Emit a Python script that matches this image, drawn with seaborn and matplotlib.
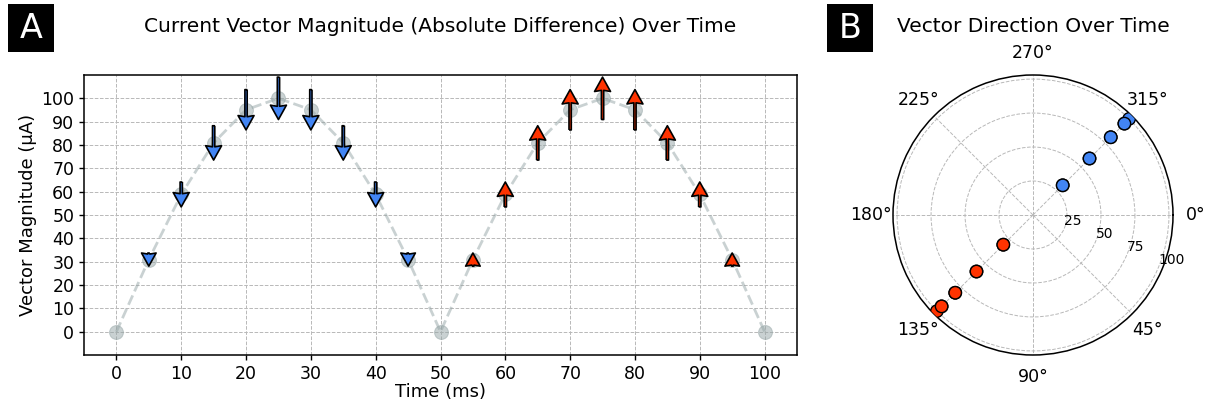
import numpy as np
import matplotlib
matplotlib.use("Agg")
import matplotlib.pyplot as plt
from matplotlib.patches import Rectangle
import seaborn as sns

# Sampled current vector: time (ms), magnitude (µA), polarity (-1 down / +1 up)
time_ms = [0, 5, 10, 15, 20, 25, 30, 35, 40, 45, 50,
           55, 60, 65, 70, 75, 80, 85, 90, 95, 100]
magnitude = [0.0, 30.9, 58.8, 80.9, 95.1, 100.0, 95.1, 80.9, 58.8, 30.9, 0.0,
             30.9, 58.8, 80.9, 95.1, 100.0, 95.1, 80.9, 58.8, 30.9, 0.0]
polarity = [0, -1, -1, -1, -1, -1, -1, -1, -1, -1, 0,
            1, 1, 1, 1, 1, 1, 1, 1, 1, 0]
# Vector direction (degrees, clockwise from east) for each polarity
direction_deg = {-1: 315, 1: 135}

x_ticks = [0, 10, 20, 30, 40, 50, 60, 70, 80, 90, 100]
y_ticks = [0, 10, 20, 30, 40, 50, 60, 70, 80, 90, 100]
r_ticks = [25, 50, 75, 100]
theta_ticks = [0, 45, 90, 135, 180, 225, 270, 315]

BLUE = "#4285F4"
RED = "#FF3300"
TRACE = "#95A5A6"
pol_color = {-1: BLUE, 1: RED}

sns.set_theme(style="ticks")
plt.rcParams["font.family"] = ["DejaVu Sans"]
for key in ("text.color", "axes.labelcolor", "xtick.color", "ytick.color"):
    plt.rcParams[key] = "black"

W, H = 1209, 405
fig = plt.figure(figsize=(W / 100, H / 100), dpi=100)

# ---------- Panel A: magnitude over time ----------
axA = fig.add_axes([84 / W, (H - 355) / H, (797 - 84) / W, 280 / H])
axA.grid(True, linestyle="--", linewidth=0.7, color="#b8b8b8", zorder=0)
axA.set_axisbelow(True)

t = np.array(time_ms, dtype=float)
m = np.array(magnitude, dtype=float)
p = np.array(polarity, dtype=float)

sns.lineplot(x=t, y=m, ax=axA, color=TRACE, linestyle="--", linewidth=2,
             marker="o", markersize=10, markeredgecolor=TRACE,
             alpha=0.5, zorder=2)

for sign in (-1, 1):
    sel = p == sign
    axA.quiver(t[sel], m[sel], np.zeros(sel.sum()), sign * m[sel],
               pivot="middle", angles="xy", scale_units="y", scale=5.5,
               width=0.0032, headwidth=7.0, headlength=6.3, headaxislength=5.8,
               color=pol_color[sign], edgecolor="black", linewidth=1.2,
               zorder=3)

axA.set_xlim(-5, 105)
axA.set_ylim(-10, 110)
axA.set_xticks(x_ticks)
axA.set_yticks(y_ticks)
axA.tick_params(labelsize=12.5, length=3.5, width=1, pad=3.5)
for s in axA.spines.values():
    s.set_color("black")
    s.set_linewidth(1.1)
axA.set_xlabel("Time (ms)", fontsize=13, labelpad=0)
axA.set_ylabel("Vector Magnitude (µA)", fontsize=13, labelpad=3)

# ---------- Panel B: direction (polar) ----------
axB = fig.add_axes([893 / W, (H - 355) / H, 280 / W, 280 / H], projection="polar")
axB.set_theta_zero_location("E")
axB.set_theta_direction(-1)

nz = p != 0
theta = np.deg2rad([direction_deg[int(v)] for v in p[nz]])
radius = m[nz]
colors = [pol_color[int(v)] for v in p[nz]]
sns.scatterplot(x=theta, y=radius, ax=axB, c=colors, s=80,
                edgecolor="black", linewidth=1, zorder=3)

axB.set_rlim(0, 103)
axB.set_rticks(r_ticks)
axB.set_thetagrids(theta_ticks, [f"{d}°" for d in theta_ticks])
axB.grid(True, linestyle="--", linewidth=0.7, color="#b8b8b8")
axB.tick_params(axis="x", labelsize=12.5, pad=3)
axB.tick_params(axis="y", labelsize=10)
axB.spines["polar"].set_color("black")
axB.spines["polar"].set_linewidth(1.1)
axB.set_xlabel("")
axB.set_ylabel("")

# ---------- Titles and panel letters ----------
fig.text(440 / W, 1 - 26 / H, "Current Vector Magnitude (Absolute Difference) Over Time",
         ha="center", va="center", fontsize=14.5)
fig.text(1033 / W, 1 - 26 / H, "Vector Direction Over Time",
         ha="center", va="center", fontsize=14.5)
for letter, x0 in (("A", 8), ("B", 827)):
    fig.patches.append(Rectangle((x0 / W, 1 - 52 / H), 46 / W, 48 / H,
                                 transform=fig.transFigure, facecolor="black",
                                 edgecolor="none", zorder=5))
    fig.text((x0 + 23) / W, 1 - 29 / H, letter, ha="center", va="center",
             fontsize=24, color="white", zorder=6)

fig.savefig("out.png", dpi=100, facecolor="white")
